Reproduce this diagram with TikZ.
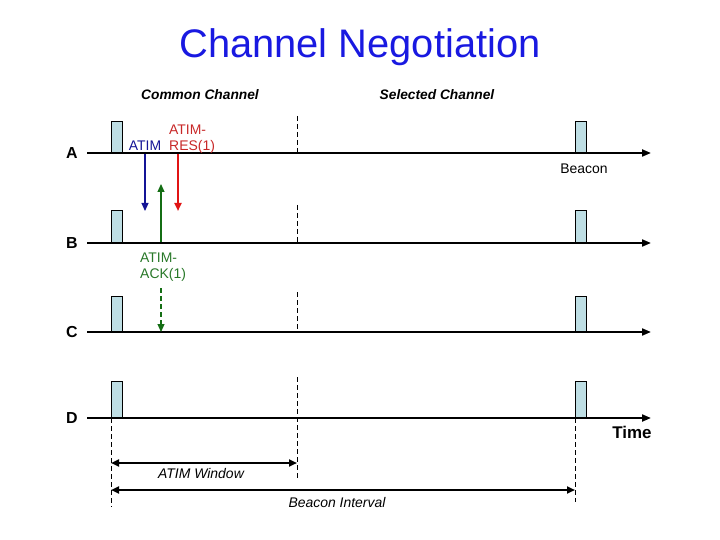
\documentclass[tikz,border=0pt]{standalone}
\usepackage{fontspec}
\setmainfont{Liberation Sans}
\usetikzlibrary{positioning,arrows.meta,calc}
\definecolor{beaconfill}{RGB}{190,222,228}
\definecolor{titleblue}{RGB}{25,25,225}
\definecolor{atimblue}{RGB}{20,20,150}
\definecolor{resred}{RGB}{225,20,20}
\definecolor{restext}{RGB}{200,40,40}
\definecolor{acktext}{RGB}{40,120,40}
\definecolor{ackgreen}{RGB}{20,110,20}

\begin{document}
\begin{tikzpicture}[
  x=1bp,y=-1bp,
  font=\fontsize{14}{16}\selectfont,
  axis/.style={line width=2bp,-{Triangle[length=9bp,width=7bp]}},
  beacon/.style={rectangle,draw=black,line width=0.7bp,fill=beaconfill,
                 minimum width=11bp,minimum height=33bp,inner sep=0pt,anchor=south west},
  guide/.style={line width=0.8bp,dash pattern=on 5bp off 3bp},
  msg/.style={line width=1.2bp,-{Triangle[length=8bp,width=7bp]}},
  span/.style={line width=2bp,{Triangle[length=8bp,width=7bp]}-{Triangle[length=8bp,width=7bp]}},
  station/.style={font=\fontsize{16}{18}\selectfont\bfseries},
  head/.style={font=\fontsize{13.8}{15}\selectfont\bfseries\itshape},
  note/.style={font=\fontsize{14}{16}\selectfont\itshape},
  lbl/.style={align=left,inner sep=0pt,anchor=north west},
]
\useasboundingbox (0,0) rectangle (720,540);

% ---------- titles ----------
\node[font=\fontsize{40}{44}\selectfont,text=titleblue] (title) at (360,47) {Channel Negotiation};
\node[head] (common) at (200,95) {Common Channel};
\node[head] (selected) at (437,95) {Selected Channel};

% ---------- time lines ----------
\coordinate (A0) at (87,153); \coordinate (A1) at (651,153);
\coordinate (B0) at (87,243); \coordinate (B1) at (651,243);
\coordinate (C0) at (87,332); \coordinate (C1) at (651,332);
\coordinate (D0) at (87,418); \coordinate (D1) at (651,418);
\node[station] (sA) at (72,153) {A};
\node[station] (sB) at (72,243) {B};
\node[station] (sC) at (72,332) {C};
\node[station] (sD) at (72,418) {D};
\draw[axis] (A0) -- (A1);
\draw[axis] (B0) -- (B1);
\draw[axis] (C0) -- (C1);
\draw[axis] (D0) -- (D1);

% ---------- beacons ----------
\node[beacon,minimum height=31bp] (bA1) at (111,153) {};
\node[beacon,minimum height=31bp] (bA2) at (575,153) {};
\node[beacon,minimum height=32bp] (bB1) at (111,243) {};
\node[beacon,minimum height=32bp] (bB2) at (575,243) {};
\node[beacon,minimum height=35bp] (bC1) at (111,332) {};
\node[beacon,minimum height=35bp] (bC2) at (575,332) {};
\node[beacon,minimum height=36bp] (bD1) at (111,418) {};
\node[beacon,minimum height=36bp] (bD2) at (575,418) {};
\node (beacon) at (584,169) {Beacon};

% ---------- end of ATIM window ----------
\coordinate (wA) at (297,116); \coordinate (wB) at (297,205);
\coordinate (wC) at (297,292); \coordinate (wD) at (297,377);
\coordinate (wEnd) at (297,478);
\draw[guide] (wA) -- (wA|-A0);
\draw[guide] (wB) -- (wB|-B0);
\draw[guide] (wC) -- (wC|-C0);
\draw[guide] (wD) -- (wEnd);

% ---------- negotiation messages ----------
\coordinate (atimS) at (145,154); \coordinate (atimE) at (145,211);
\coordinate (resS) at (178,154);  \coordinate (resE) at (178,211);
\coordinate (ackS) at (161,242);  \coordinate (ackE) at (161,184);
\coordinate (ackcS) at (161,288); \coordinate (ackcE) at (161,332);
\draw[msg,atimblue] (atimS) -- (atimE);
\draw[msg,resred,line width=2.2bp] (resS) -- (resE);
\draw[msg,ackgreen] (ackS) -- (ackE);
\draw[msg,ackgreen,guide,line width=1.2bp] (ackcS) -- (ackcE);
\node[text=atimblue,anchor=base] (atim) at (145,151) {ATIM};
\node[lbl,text=restext] (res) at (169,125) {ATIM-\\RES(1)};
\node[lbl,text=acktext] (ack) at (140,253) {ATIM-\\ACK(1)};

% ---------- intervals ----------
\coordinate (iL) at (111,507); \coordinate (iR) at (575,502);
\draw[guide] (bD1.south west) -- (iL);
\draw[guide] (bD2.south west) -- (iR);
\draw[span] (bD1.south west|-0,463) -- (wD|-0,463);
\draw[span] (bD1.south west|-0,490) -- (bD2.south west|-0,490);
\node[note] (win) at (201,474) {ATIM Window};
\node[note] (bint) at (337,503) {Beacon Interval};
\node[font=\fontsize{17}{19}\selectfont\bfseries] (time) at (632,432) {Time};
\end{tikzpicture}
\end{document}
